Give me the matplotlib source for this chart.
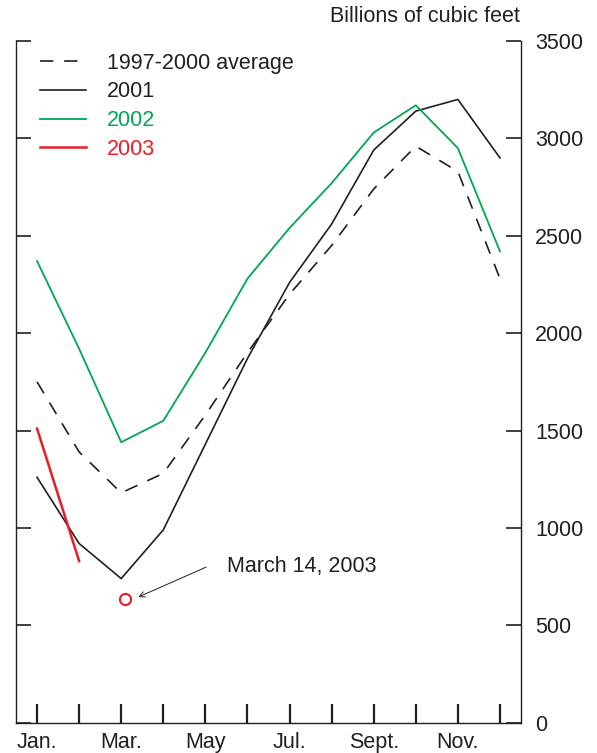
import matplotlib
matplotlib.use('Agg')
import matplotlib.pyplot as plt

plt.rcParams['font.family'] = ['Liberation Sans', 'DejaVu Sans']

# 月份与标签
months = list(range(12))
month_labels = ['Jan.', '', 'Mar.', '', 'May', '', 'Jul.', '', 'Sept.', '', 'Nov.', '']

# 各年库存 (十亿立方英尺)
avg_1997_2000 = [1750, 1390, 1180, 1280, 1580, 1900, 2200, 2450, 2740, 2960, 2830, 2280]
y2001 = [1260, 920, 740, 990, 1430, 1870, 2260, 2560, 2940, 3140, 3200, 2900]
y2002 = [2370, 1920, 1440, 1550, 1900, 2280, 2540, 2770, 3030, 3170, 2950, 2420]
months_2003 = [0, 1]
y2003 = [1510, 830]

# 2003年3月14日的点
march14_x = [2.1]
march14_y = [635]

green = '#00a651'
red = '#ed1c24'
ink = '#231f20'
fs = 15.5

fig = plt.figure(figsize=(5.97, 7.53), dpi=100)
ax = fig.add_axes([16 / 597, 30.3 / 753, 505 / 597, 681.7 / 753])

ax.plot(months, avg_1997_2000, color=ink, lw=1.2, linestyle=(0, (8, 6.5)),
        label='1997-2000 average')
ax.plot(months, y2001, color=ink, lw=1.2, label='2001')
ax.plot(months, y2002, color=green, lw=1.3, label='2002')
ax.plot(months_2003, y2003, color=red, lw=1.8, label='2003')
ax.plot(march14_x, march14_y, linestyle='none', marker='o', ms=8, mfc='none',
        mec=red, mew=1.5)

# 注释文字与箭头
ax.text(4.52, 804, 'March 14, 2003', fontsize=fs, color=ink,
        va='center', ha='left')
ax.annotate('', xy=(2.405, 645), xytext=(4.02, 799),
            arrowprops=dict(arrowstyle='->', color=ink, lw=0.7,
                            shrinkA=0, shrinkB=0))

ax.set_xlim(-0.5, 11.5)
ax.set_ylim(0, 3500)
ax.set_xticks(months)
ax.set_xticklabels(month_labels)
ax.set_yticks(range(0, 3501, 500))

for s in ['left', 'right', 'bottom']:
    ax.spines[s].set_linewidth(1.0)
    ax.spines[s].set_color(ink)
ax.spines['top'].set_visible(False)

ax.tick_params(axis='y', direction='in', left=True, right=True,
               labelleft=False, labelright=True, length=11, width=1.2,
               pad=10, labelsize=fs, colors=ink)
ax.tick_params(axis='x', direction='in', length=13.5, width=1.6,
               pad=7, labelsize=fs, colors=ink)

leg = ax.legend(loc='upper left', frameon=False, fontsize=fs,
                handlelength=2.14, handletextpad=0.98, labelspacing=0.36,
                borderaxespad=0, borderpad=0, bbox_to_anchor=(0.047, 0.983),
                labelcolor=[ink, ink, green, red])

fig.text(520 / 597, 1 - 17 / 753, 'Billions of cubic feet', ha='right',
         va='center', fontsize=fs, color=ink)

fig.savefig('out.png', dpi=100)
